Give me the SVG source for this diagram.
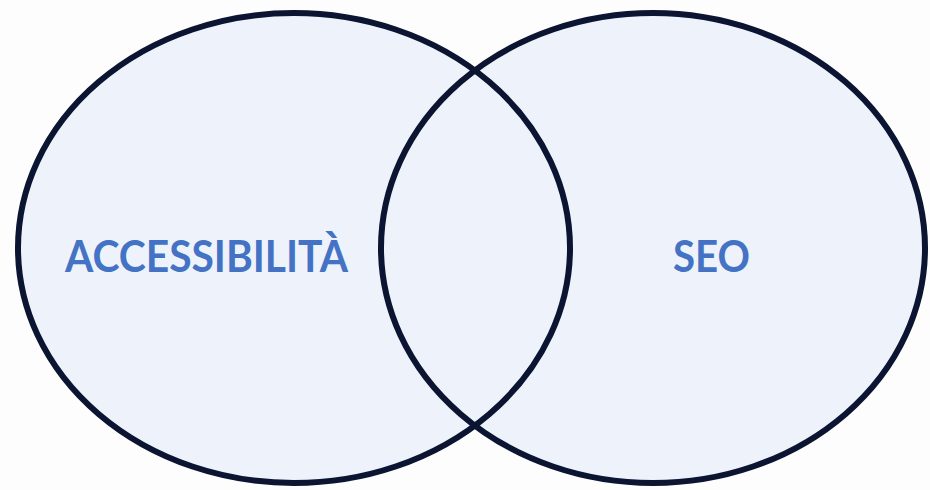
<svg xmlns="http://www.w3.org/2000/svg" width="930" height="490" viewBox="0 0 930 490">
<style>
.f{fill:#eef3fb;stroke:none}
.c{fill:none;stroke:#0b1430;stroke-width:6}
.t{font-family:Lato,"Open Sans","Liberation Sans",sans-serif;font-weight:bold;fill:#4472c4;font-size:43px}
</style>
<rect width="930" height="490" fill="#fdfdfe"/>
<g id="accessibilita">
<ellipse class="f" cx="294" cy="248" rx="276" ry="235"/>
</g>
<g id="seo">
<ellipse class="f" cx="653" cy="248" rx="272" ry="235"/>
</g>
<g id="outlines">
<ellipse class="c" cx="294" cy="248" rx="276" ry="235"/>
<ellipse class="c" cx="653" cy="248" rx="272" ry="235"/>
</g>
<g id="labels">
<text class="t" x="65" y="272" textLength="283" lengthAdjust="spacingAndGlyphs">ACCESSIBILITÀ</text>
<text class="t" x="673" y="272" textLength="77" lengthAdjust="spacingAndGlyphs">SEO</text>
</g>
</svg>
